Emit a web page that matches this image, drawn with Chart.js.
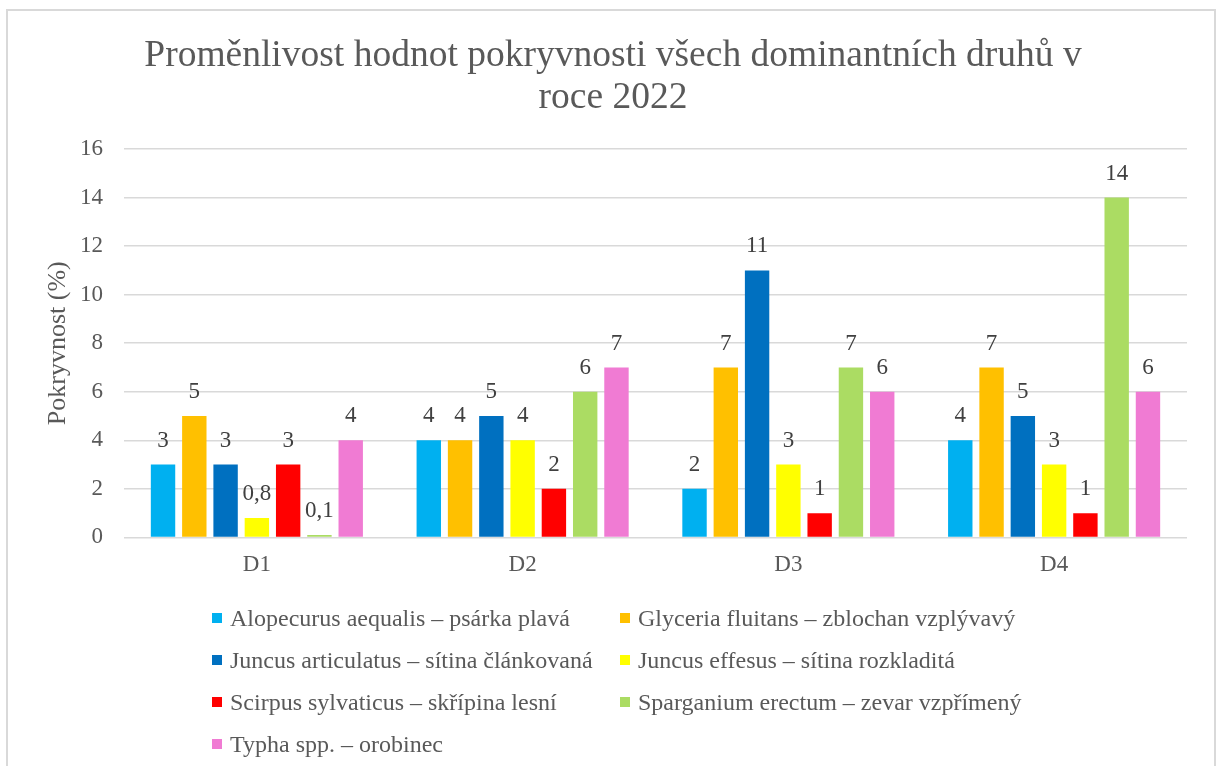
<!DOCTYPE html>
<html lang="cs">
<head>
    <meta charset="UTF-8">
    <title>Proměnlivost hodnot pokryvnosti</title>
    <script src="https://cdn.jsdelivr.net/npm/chart.js"></script>
    <style>
        body {
            margin: 0;
            background: #fff;
            overflow: hidden;
            font-family: 'Liberation Serif', serif;
        }

        .wrap {
            position: relative;
            width: 1217px;
            height: 766px;
        }

        .frame {
            position: absolute;
            left: 6px;
            top: 9px;
            width: 1210px;
            height: 800px;
            border: 2px solid #d9d9d9;
            box-sizing: border-box;
        }

        canvas {
            position: absolute;
            left: 0;
            top: 0;
        }

        #legend {
            position: absolute;
            left: 212px;
            top: 597px;
            display: grid;
            grid-template-columns: 408px 408px;
            grid-auto-rows: 42px;
        }

        .item {
            display: flex;
            align-items: center;
            font-size: 24px;
            color: #595959;
            white-space: nowrap;
        }

        .box {
            width: 10px;
            height: 10px;
            margin-right: 8px;
            flex: none;
        }
    </style>
</head>
<body>

<div class="wrap">
    <div class="frame"></div>
    <canvas id="chart" width="1217" height="766"></canvas>
    <div id="legend"></div>
</div>

<script>
    const categories = ['D1', 'D2', 'D3', 'D4'];

    const species = [
        'Alopecurus aequalis – psárka plavá',
        'Glyceria fluitans – zblochan vzplývavý',
        'Juncus articulatus – sítina článkovaná',
        'Juncus effesus – sítina rozkladitá',
        'Scirpus sylvaticus – skřípina lesní',
        'Sparganium erectum – zevar vzpřímený',
        'Typha spp. – orobinec'
    ];

    const alopecurus = [3, 4, 2, 4];
    const glyceria = [5, 4, 7, 7];
    const juncusArticulatus = [3, 5, 11, 5];
    const juncusEffesus = [0.8, 4, 3, 3];
    const scirpus = [3, 2, 1, 1];
    const sparganium = [0.1, 6, 7, 14];
    const typha = [4, 7, 6, 6];

    const colors = ['#00b0f0', '#ffc000', '#0070c0', '#ffff00', '#ff0000', '#abdc63', '#f07bd3'];

    const yMax = 16;
    const yStep = 2;

    const seriesValues = [alopecurus, glyceria, juncusArticulatus, juncusEffesus, scirpus, sparganium, typha];

    const fmt = v => String(v).replace('.', ',');

    // value labels above each bar (Excel style data labels)
    const valueLabels = {
        id: 'valueLabels',
        afterDatasetsDraw(chart) {
            const ctx = chart.ctx;
            ctx.save();
            ctx.font = '23px "Liberation Serif"';
            ctx.fillStyle = '#404040';
            ctx.textAlign = 'center';
            ctx.textBaseline = 'middle';
            chart.data.datasets.forEach((ds, i) => {
                chart.getDatasetMeta(i).data.forEach((bar, j) => {
                    ctx.fillText(fmt(ds.data[j]), bar.x, bar.y - 24);
                });
            });
            ctx.restore();
        }
    };

    const chart = new Chart(document.getElementById('chart'), {
        type: 'bar',
        data: {
            labels: categories,
            datasets: species.map((name, i) => ({
                label: name,
                data: seriesValues[i],
                backgroundColor: colors[i],
                borderWidth: 0,
                categoryPercentage: 0.824,
                barPercentage: 0.78
            }))
        },
        options: {
            responsive: false,
            animation: false,
            layout: {
                padding: { left: 39, right: 30, top: 0, bottom: 173 }
            },
            plugins: {
                legend: { display: false },
                tooltip: { enabled: false },
                title: {
                    display: true,
                    text: ['Proměnlivost hodnot pokryvnosti všech dominantních druhů v', 'roce 2022'],
                    color: '#595959',
                    font: { family: 'Liberation Serif', size: 37.5, weight: 'normal', lineHeight: '42px' },
                    padding: { top: 35, bottom: 30 }
                }
            },
            scales: {
                x: {
                    grid: { display: false, drawTicks: false },
                    border: { display: false },
                    ticks: {
                        color: '#595959',
                        padding: 14,
                        font: { family: 'Liberation Serif', size: 23 }
                    }
                },
                y: {
                    min: 0,
                    max: yMax,
                    afterFit(scale) {
                        scale.width = 85;
                    },
                    grid: { color: '#d9d9d9', lineWidth: 1.5, drawTicks: false },
                    border: { display: false },
                    ticks: {
                        stepSize: yStep,
                        color: '#595959',
                        padding: 21,
                        font: { family: 'Liberation Serif', size: 23 }
                    },
                    title: {
                        display: true,
                        text: 'Pokryvnost (%)',
                        color: '#595959',
                        font: { family: 'Liberation Serif', size: 26 },
                        padding: { top: 4, bottom: 4 }
                    }
                }
            }
        },
        plugins: [valueLabels]
    });

    // legend in two columns, built from the chart datasets
    const legendEl = document.getElementById('legend');
    chart.data.datasets.forEach(ds => {
        const item = document.createElement('div');
        item.className = 'item';
        const box = document.createElement('span');
        box.className = 'box';
        box.style.background = ds.backgroundColor;
        item.appendChild(box);
        item.appendChild(document.createTextNode(ds.label));
        legendEl.appendChild(item);
    });
</script>

</body>
</html>
